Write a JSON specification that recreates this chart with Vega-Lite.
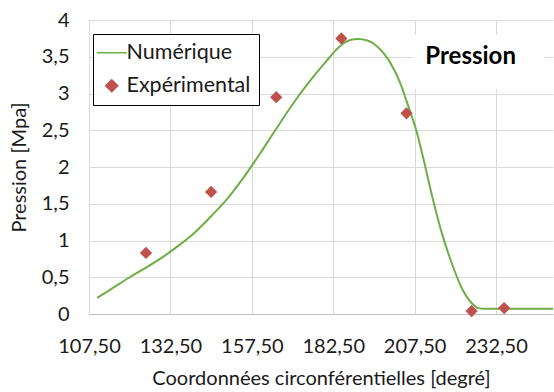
{
  "$schema": "https://vega.github.io/schema/vega-lite/v6.json",
  "width": 464,
  "height": 294,
  "autosize": "none",
  "padding": {"left": 89, "top": 20, "right": 1, "bottom": 78},
  "background": "white",
  "config": {
    "font": "Lato",
    "view": {"stroke": null},
    "axis": {"gridColor": "#D9D9D9", "gridWidth": 1, "domainColor": "#D9D9D9", "ticks": false, "labelOverlap": false, "labelFlush": false, "labelFont": "Lato", "labelFontSize": 20, "labelColor": "#1a1a1a", "titleFont": "Lato", "titleFontSize": 20, "titleFontWeight": "normal", "titleColor": "#1a1a1a"}
  },
  "datasets": {
    "num": [
      {"x": 110, "y": 0.22}, {"x": 115, "y": 0.36}, {"x": 120, "y": 0.5}, {"x": 125, "y": 0.63},
      {"x": 130, "y": 0.77}, {"x": 135, "y": 0.93}, {"x": 140, "y": 1.11}, {"x": 145, "y": 1.33},
      {"x": 150, "y": 1.57}, {"x": 155, "y": 1.86}, {"x": 160, "y": 2.18}, {"x": 165, "y": 2.52},
      {"x": 170, "y": 2.85}, {"x": 175, "y": 3.15}, {"x": 180, "y": 3.42}, {"x": 185, "y": 3.66},
      {"x": 188, "y": 3.73}, {"x": 190, "y": 3.74}, {"x": 193, "y": 3.72}, {"x": 196, "y": 3.64},
      {"x": 200, "y": 3.42}, {"x": 203, "y": 3.15}, {"x": 205, "y": 2.9}, {"x": 208, "y": 2.5},
      {"x": 210, "y": 2.15}, {"x": 213, "y": 1.58}, {"x": 216, "y": 1.08}, {"x": 219, "y": 0.68},
      {"x": 222, "y": 0.35}, {"x": 225, "y": 0.15}, {"x": 227, "y": 0.08}, {"x": 229, "y": 0.07},
      {"x": 235, "y": 0.07}, {"x": 250, "y": 0.07}
    ],
    "exp": [
      {"x": 125, "y": 0.83}, {"x": 145, "y": 1.66}, {"x": 165, "y": 2.95}, {"x": 185, "y": 3.75},
      {"x": 205, "y": 2.73}, {"x": 225, "y": 0.04}, {"x": 235, "y": 0.08}
    ],
    "box": [{"x": 207.1, "x2": 247.1, "y": 3.06, "y2": 3.8}],
    "lab": [{"x": 224.7, "y": 3.5, "label": "Pression"}]
  },
  "encoding": {
    "x": {"field": "x", "type": "quantitative", "scale": {"domain": [107.5, 250], "nice": false, "zero": false},
      "axis": {"values": [107.5, 132.5, 157.5, 182.5, 207.5, 232.5], "labelExpr": "replace(format(datum.value, '.2f'), '.', ',')", "labelPadding": 22, "title": "Coordonnées circonférentielles [degré]", "titlePadding": 12, "domainColor": "#BFBFBF"}},
    "y": {"field": "y", "type": "quantitative", "scale": {"domain": [0, 4], "nice": false},
      "axis": {"values": [0, 0.5, 1, 1.5, 2, 2.5, 3, 3.5, 4], "labelExpr": "replace(toString(datum.value), '.', ',')", "labelPadding": 20, "title": "Pression [Mpa]", "titlePadding": 12}}
  },
  "layer": [
    {
      "data": {"name": "box"},
      "mark": {"type": "rect", "fill": "white"},
      "encoding": {
        "x2": {"field": "x2"},
        "y2": {"field": "y2"}
      }
    },
    {
      "data": {"name": "lab"},
      "mark": {"type": "text", "fontWeight": "bold", "fontSize": 24, "font": "Lato", "color": "black"},
      "encoding": {
        "text": {"field": "label"}
      }
    },
    {
      "data": {"name": "num"},
      "transform": [{"calculate": "'Numérique'", "as": "serie"}],
      "mark": {"type": "line", "interpolate": "monotone", "strokeWidth": 2},
      "encoding": {
        "color": {"field": "serie", "type": "nominal",
          "scale": {"domain": ["Numérique", "Expérimental"], "range": ["#6FAD47", "#C0504D"]},
          "legend": {"title": null, "orient": "none", "legendX": 4, "legendY": 14, "strokeColor": "black", "fillColor": "white", "padding": 8, "labelFontSize": 21.5, "labelFont": "Lato", "labelColor": "#1a1a1a", "rowPadding": 10, "symbolSize": 144, "symbolStrokeWidth": 1.5, "labelOffset": 4,
            "encode": {"symbols": {"update": {"stroke": {"scale": "color", "field": "value"}}}}}
        }
      }
    },
    {
      "data": {"name": "exp"},
      "transform": [{"calculate": "'Expérimental'", "as": "serie"}],
      "mark": {"type": "point", "filled": true, "opacity": 1, "size": 150},
      "encoding": {
        "color": {"field": "serie", "type": "nominal"},
        "shape": {"field": "serie", "type": "nominal",
          "scale": {"domain": ["Numérique", "Expérimental"], "range": ["M-2.5,0H2.5", "diamond"]},
          "legend": {"title": null}}
      }
    }
  ]
}
